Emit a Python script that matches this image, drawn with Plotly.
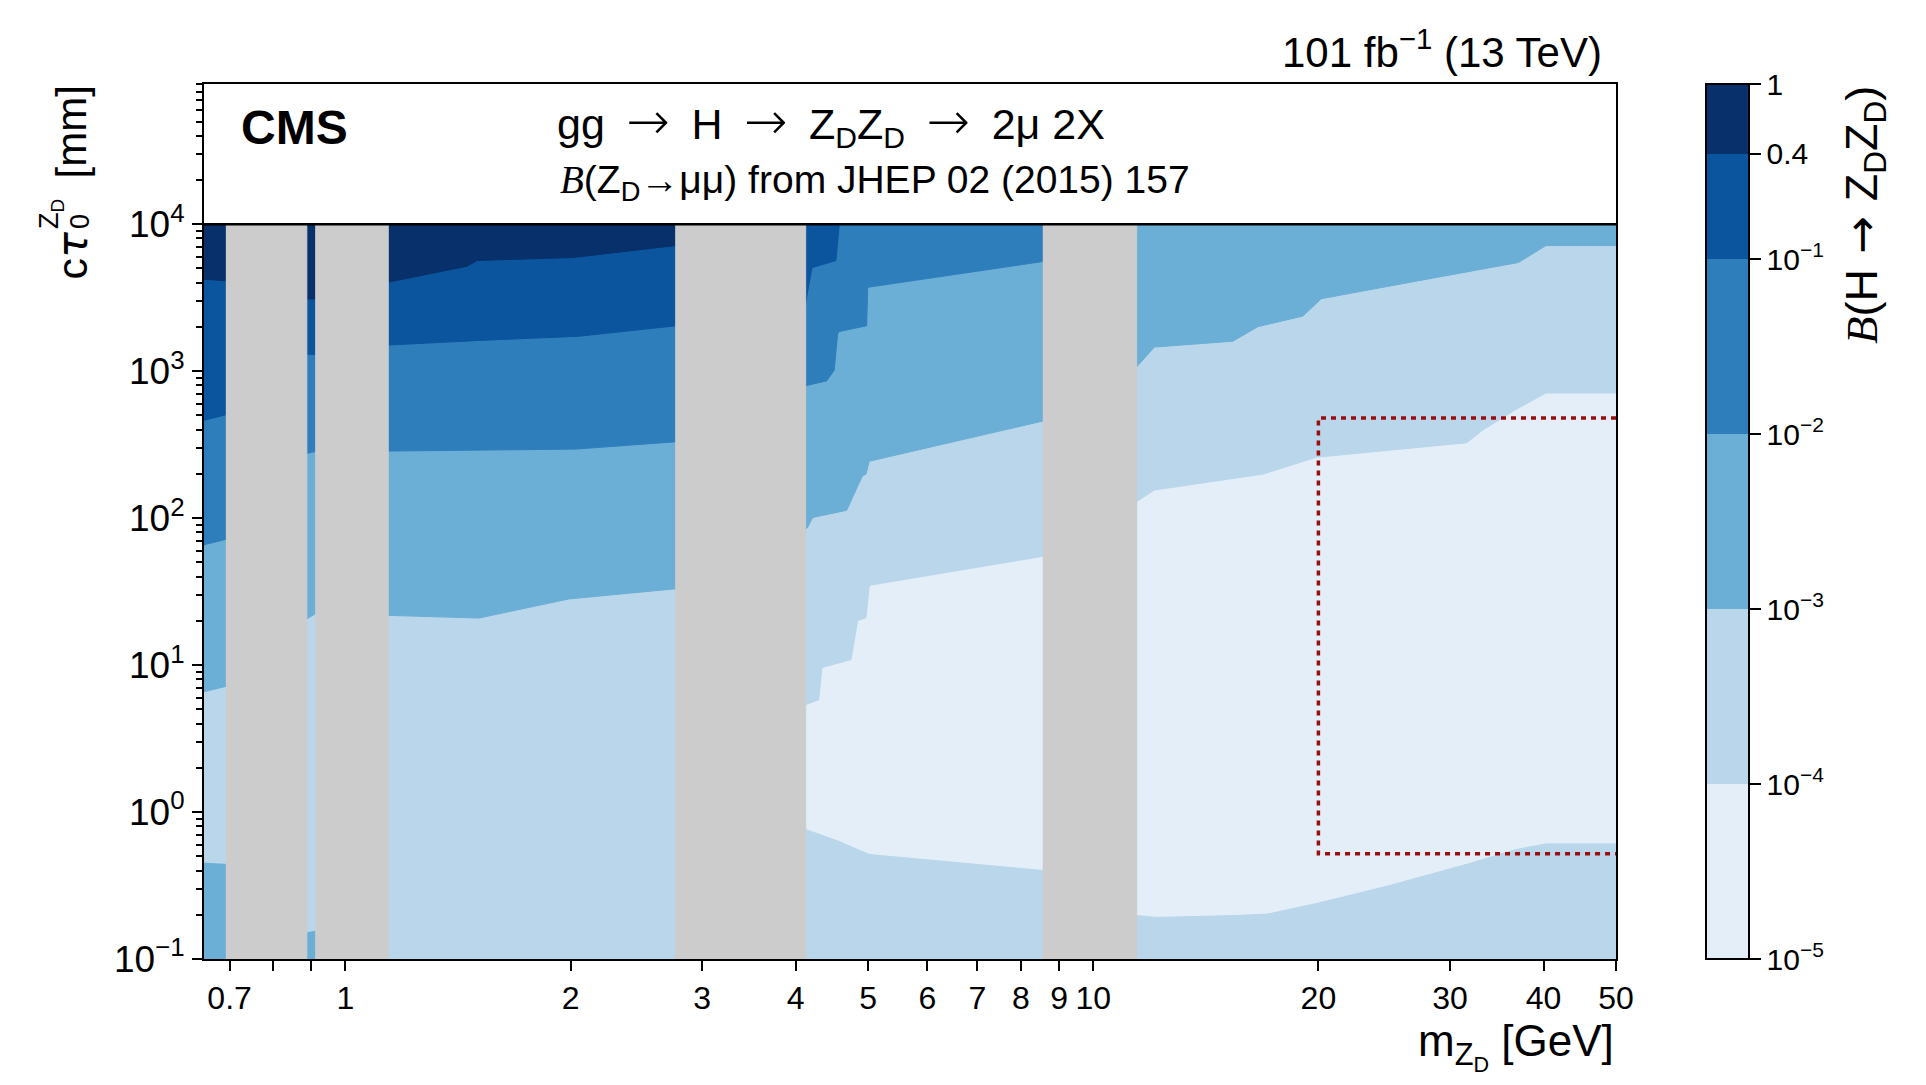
import numpy as np
import plotly.graph_objects as go

# ------------------------------------------------------------------ data
# colour levels of B(H -> ZD ZD) and their band colours
levels = [1e-5, 1e-4, 1e-3, 1e-2, 1e-1, 0.4, 1.0]
level_labels = ["10<sup>−5</sup>", "10<sup>−4</sup>", "10<sup>−3</sup>",
                "10<sup>−2</sup>", "10<sup>−1</sup>", "0.4", "1"]
band_colors = ["#e3eef9", "#b9d6eb", "#6baed6", "#2f7ebc", "#0b559f", "#08306b"]

ctau_lo = 0.1      # lower edge of the scanned lifetime range [mm]
ctau_hi = 1e4      # upper edge of the scanned lifetime range [mm]

# vetoed (grey) mass windows [GeV]
veto_lo = [0.692, 0.911, 2.76, 8.56]
veto_hi = [0.888, 1.141, 4.125, 11.43]

# contour boundaries: mass [GeV] and c tau [mm]
# region A (below 0.69 GeV)
A_m = [0.64, 0.695]
A_1e3_up = [6.5, 7.2]
A_1e3_lo = [0.45, 0.44]
A_1e2_up = [65, 72]
A_1e1_up = [457, 508]
A_04_up = [4250, 4110]

# region B (0.89 - 0.91 GeV)
B_m = [0.885, 0.915]
B_1e3_up = [20.4, 22.6]
B_1e3_lo = [0.15, 0.155]
B_1e2_up = [275, 285]
B_1e1_up = [1300, 1300]
B_04_up = [3100, 3100]

# region C (1.14 - 2.76 GeV)
C_04_m = [1.14, 1.455, 1.50, 2.01, 2.77]
C_04_ct = [4030, 5180, 5670, 5930, 7170]
C_1e1_m = [1.14, 1.54, 2.05, 2.77]
C_1e1_ct = [1505, 1626, 1727, 2038]
C_1e2_m = [1.14, 1.85, 2.03, 2.77]
C_1e2_ct = [286, 295, 295, 331]
C_1e3_m = [1.14, 1.306, 1.508, 1.99, 2.77]
C_1e3_ct = [21.8, 21.3, 20.9, 28.2, 33.1]

# region D (4.1 - 8.6 GeV)
D_1e1_m = [4.12, 4.171, 4.206, 4.528, 4.575]
D_1e1_ct = [2825, 3970, 5060, 5660, 10000]
D_1e2_m = [4.12, 4.40, 4.504, 4.551, 4.575, 4.977, 4.993, 5.018, 8.57]
D_1e2_ct = [796, 859, 1015, 1792, 1862, 2038, 3681, 3736, 5580]
D_1e3_m = [4.12, 4.150, 4.215, 4.680, 4.841, 4.916, 4.966, 5.018, 8.57]
D_1e3_ct = [83.4, 86.6, 101, 113, 165, 195, 199, 244, 458]
D_1e4up_m = [4.12, 4.293, 4.337, 4.743, 4.841, 4.966, 5.018, 8.57]
D_1e4up_ct = [5.38, 5.80, 9.63, 10.9, 20.1, 21.0, 34.9, 55.0]
D_1e4lo_m = [4.12, 4.575, 4.816, 5.018, 8.57]
D_1e4lo_ct = [0.762, 0.630, 0.562, 0.514, 0.400]

# region E (11.4 - 50 GeV)
E_1e3_m = [11.4, 12.07, 15.37, 16.60, 19.07, 20.18, 25.06, 37.04, 40.30, 50]
E_1e3_ct = [1054, 1459, 1600, 2009, 2372, 3115, 3820, 5495, 7160, 7160]
E_1e4up_m = [11.4, 12.07, 16.86, 19.87, 25.06, 31.58, 33.08, 36.66, 40.30, 50]
E_1e4up_ct = [128.4, 155.3, 199.3, 259.5, 290.9, 325.9, 393.9, 545.3, 711, 711]
E_1e4lo_m = [11.4, 12.13, 15.53, 17.12, 20.07, 25.06, 31.58, 36.66, 40.30, 50]
E_1e4lo_ct = [0.1977, 0.1918, 0.1977, 0.2023, 0.241, 0.319, 0.441, 0.554, 0.607, 0.607]

# signal-region box (dotted red)
box_m = [20, 50]
box_ct = [0.52, 480]

# axes
x_range = [0.647, 50]
y_range = [0.1, 9e4]
x_tickvals = [0.7, 0.8, 0.9, 1, 2, 3, 4, 5, 6, 7, 8, 9, 10, 20, 30, 40, 50]
x_ticktext = ["0.7", "", "", "1", "2", "3", "4", "5", "6", "7", "8", "9", "10",
              "20", "30", "40", "50"]
y_tickvals = [0.1, 1, 10, 100, 1000, 10000]
y_ticktext = ["10<sup>−1</sup>", "10<sup>0</sup>", "10<sup>1</sup>",
              "10<sup>2</sup>", "10<sup>3</sup>", "10<sup>4</sup>"]
y_minor = [k * 10.0 ** d for d in range(-1, 5) for k in range(2, 10)]

# ------------------------------------------------------------------ figure
FONT = "Liberation Sans, Arial, sans-serif"
OFF = 8                      # page margin of the html body
W, H = 1910, 1069
L, R, T, B = 196, 302, 76, 118
PW, PH = W - L - R, H - T - B


def px(x):                   # page pixel -> paper fraction
    return (x - OFF - L) / PW


def py(y):
    return (H - B - (y - OFF)) / PH


fig = go.Figure()


def poly(xs, ys, color):
    fig.add_trace(go.Scatter(x=xs, y=ys, mode="lines", fill="toself",
                             fillcolor=color, line=dict(color=color, width=1),
                             hoverinfo="skip", showlegend=False))


def top_region(m, ct, band):
    poly(list(m) + [m[-1], m[0]], list(ct) + [ctau_hi, ctau_hi], band_colors[band])


def bottom_region(m, ct, band):
    poly(list(m) + [m[-1], m[0]], list(ct) + [ctau_lo, ctau_lo], band_colors[band])


def base_region(m0, m1, band):
    poly([m0, m1, m1, m0], [ctau_lo, ctau_lo, ctau_hi, ctau_hi], band_colors[band])


# region A
base_region(A_m[0], A_m[-1], 1)
top_region(A_m, A_1e3_up, 2)
bottom_region(A_m, A_1e3_lo, 2)
top_region(A_m, A_1e2_up, 3)
top_region(A_m, A_1e1_up, 4)
top_region(A_m, A_04_up, 5)
# region B
base_region(B_m[0], B_m[-1], 1)
top_region(B_m, B_1e3_up, 2)
bottom_region(B_m, B_1e3_lo, 2)
top_region(B_m, B_1e2_up, 3)
top_region(B_m, B_1e1_up, 4)
top_region(B_m, B_04_up, 5)
# region C
base_region(C_1e3_m[0], C_1e3_m[-1], 1)
top_region(C_1e3_m, C_1e3_ct, 2)
top_region(C_1e2_m, C_1e2_ct, 3)
top_region(C_1e1_m, C_1e1_ct, 4)
top_region(C_04_m, C_04_ct, 5)
# region D
base_region(D_1e4up_m[0], D_1e4up_m[-1], 0)
top_region(D_1e4up_m, D_1e4up_ct, 1)
bottom_region(D_1e4lo_m, D_1e4lo_ct, 1)
top_region(D_1e3_m, D_1e3_ct, 2)
top_region(D_1e2_m, D_1e2_ct, 3)
top_region(D_1e1_m, D_1e1_ct, 4)
# region E
base_region(E_1e4up_m[0], E_1e4up_m[-1], 0)
top_region(E_1e4up_m, E_1e4up_ct, 1)
bottom_region(E_1e4lo_m, E_1e4lo_ct, 1)
top_region(E_1e3_m, E_1e3_ct, 2)

# vetoed windows
for lo, hi in zip(veto_lo, veto_hi):
    poly([lo, hi, hi, lo], [ctau_lo, ctau_lo, ctau_hi, ctau_hi], "#cccccc")

# header separation line at the top of the scan
fig.add_trace(go.Scatter(x=x_range, y=[ctau_hi, ctau_hi], mode="lines",
                         line=dict(color="black", width=2.5),
                         hoverinfo="skip", showlegend=False))

# dotted signal box
fig.add_trace(go.Scatter(x=[box_m[1], box_m[0], box_m[0], box_m[1]],
                         y=[box_ct[1], box_ct[1], box_ct[0], box_ct[0]],
                         mode="lines",
                         line=dict(color="#9b0d0d", width=3.5, dash="5px,5px"),
                         hoverinfo="skip", showlegend=False))

# colour bar (discrete, log scale)
lg = np.log10(levels)
pos = (lg - lg[0]) / (lg[-1] - lg[0])
cscale = []
for i, c in enumerate(band_colors):
    cscale.append([float(pos[i]), c])
    cscale.append([float(pos[i + 1]), c])

fig.add_trace(go.Scatter(
    x=[1], y=[1], mode="markers", hoverinfo="skip", showlegend=False,
    marker=dict(size=1, opacity=0, color=[lg[0]], colorscale=cscale,
                cmin=lg[0], cmax=lg[-1], showscale=True,
                colorbar=dict(
                    x=px(1706), xanchor="left", y=0.5, yanchor="middle",
                    len=1, lenmode="fraction", thickness=43,
                    thicknessmode="pixels", xpad=0, ypad=0,
                    outlinewidth=2, outlinecolor="black",
                    tickmode="array", tickvals=list(lg), ticktext=level_labels,
                    ticks="outside", ticklen=11, tickwidth=2, tickcolor="black",
                    tickfont=dict(family=FONT, size=30, color="black")))))

ann = []


def text(x, y, s, size, xa="left", ya="middle", angle=0, family=FONT):
    ann.append(dict(x=px(x), y=py(y), xref="paper", yref="paper", text=s,
                    showarrow=False, xanchor=xa, yanchor=ya, textangle=angle,
                    font=dict(family=family, size=size, color="black")))


Bcal = '<span style="font-family:Liberation Serif"><i>B</i></span>'
ARR = '<span style="font-family:DejaVu Sans">→</span>'
ARR_BIG = ('<span style="font-family:DejaVu Sans;font-weight:200;'
           'font-size:52px">→</span>')
SP = "\u2002"
SP3 = "\u2004"
text(1604, 49, "101 fb<sup>−1</sup> (13 TeV)", 42, xa="right")
text(239, 128, "<b>CMS</b>", 48)
text(555, 122, "gg" + SP + ARR_BIG + SP + "H" + SP + ARR_BIG + SP +
     "Z<sub>D</sub>Z<sub>D</sub>" + SP + ARR_BIG + SP + "2μ 2X", 43)
text(558, 183, Bcal + "(Z<sub>D</sub>→μμ) from JHEP 02 (2015) 157", 39)
text(1616, 1046, "m<sub>Z<sub>D</sub></sub> [GeV]", 44, xa="right")
# y-axis title, built from pieces so the sub/superscripts stack
text(71, 84, "[mm]", 42, xa="center", ya="top", angle=-90)
text(71, 282, 'c<span style="font-family:DejaVu Sans"><i>τ</i></span>', 43,
     xa="center", ya="bottom", angle=-90)
text(80, 222, "0", 27, xa="center", ya="middle", angle=-90)
text(51, 214, "Z<sub>D</sub>", 27, xa="center", ya="middle", angle=-90)
# colour-bar title
text(1864, 84, Bcal + "(H" + SP3 + ARR + SP3 + "Z<sub>D</sub>Z<sub>D</sub>)", 45,
     xa="center", ya="top", angle=-90)

fig.update_layout(
    width=W, height=H, margin=dict(l=L, r=R, t=T, b=B, autoexpand=False),
    paper_bgcolor="white", plot_bgcolor="white", showlegend=False,
    font=dict(family=FONT, color="black"),
    annotations=ann,
    xaxis=dict(type="log", range=list(np.log10(x_range)), showgrid=False,
               zeroline=False, showline=True, linecolor="black", linewidth=2,
               mirror=True, ticks="outside", ticklen=10, tickwidth=2,
               tickcolor="black", tickmode="array", tickvals=x_tickvals,
               ticktext=x_ticktext,
               tickfont=dict(family=FONT, size=32, color="black")),
    yaxis=dict(type="log", range=list(np.log10(y_range)), showgrid=False,
               zeroline=False, showline=True, linecolor="black", linewidth=2,
               mirror=True, ticks="outside", ticklen=10, tickwidth=2,
               tickcolor="black", tickmode="array", tickvals=y_tickvals,
               ticktext=y_ticktext,
               tickfont=dict(family=FONT, size=37, color="black"),
               minor=dict(tickmode="array", tickvals=y_minor, ticks="outside",
                          ticklen=6, tickwidth=1.5, tickcolor="black",
                          showgrid=False)),
)

fig.write_html("out.html")
